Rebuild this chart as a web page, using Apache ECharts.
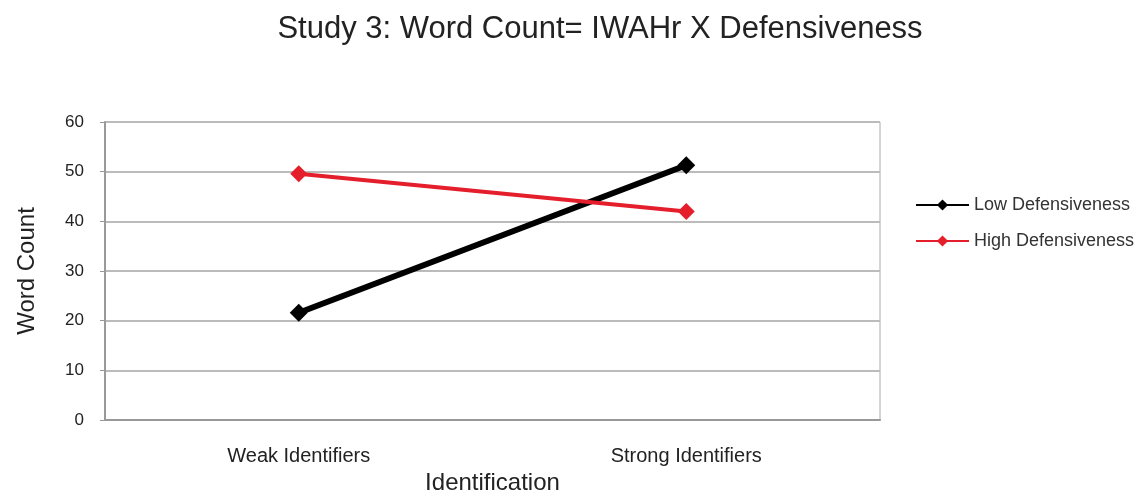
<!DOCTYPE html>
<html>
<head>
<meta charset="utf-8">
<script src="https://cdn.jsdelivr.net/npm/echarts@6/dist/echarts.min.js"></script>
<style>
  html, body { margin: 0; padding: 0; background: #fff; }
  #chart { width: 1147px; height: 497px; }
</style>
</head>
<body>
<div id="chart"></div>
<script>
const categories = ['Weak Identifiers', 'Strong Identifiers']
const lowDefensiveness = [21.6, 51.3]
const highDefensiveness = [49.6, 42.0]
const seriesNames = ['Low Defensiveness', 'High Defensiveness']

const chart = echarts.init(document.getElementById('chart'))
const font = 'Liberation Sans, Arial, sans-serif'
const option = {
  animation: false,
  textStyle: { fontFamily: font },
  title: {
    text: 'Study 3: Word Count= IWAHr X Defensiveness',
    left: 595,
    textAlign: 'center',
    top: 9,
    textStyle: { fontSize: 31, fontWeight: 'normal', color: '#222', fontFamily: font }
  },
  legend: {
    orient: 'vertical',
    left: 910,
    top: 191,
    itemGap: 18,
    itemWidth: 53,
    itemHeight: 14,
    textStyle: { fontSize: 18, color: '#333', fontFamily: font },
    data: seriesNames
  },
  grid: {
    left: 105,
    right: 267,
    top: 122,
    bottom: 77,
    outerBoundsMode: 'none',
    show: true,
    borderColor: '#aaa',
    borderWidth: 1
  },
  xAxis: {
    type: 'category',
    data: categories,
    name: 'Identification',
    nameLocation: 'middle',
    nameGap: 42,
    nameTextStyle: { fontSize: 24, color: '#222' },
    axisLine: { lineStyle: { color: '#999', width: 2 } },
    axisTick: { show: false },
    axisLabel: { fontSize: 20, color: '#222', margin: 26 }
  },
  yAxis: {
    type: 'value',
    min: 0,
    max: 60,
    interval: 10,
    name: 'Word Count',
    nameLocation: 'middle',
    nameGap: 66,
    nameTextStyle: { fontSize: 24, color: '#222' },
    axisLine: { show: true, lineStyle: { color: '#999', width: 2 } },
    axisTick: { show: true, length: 5, lineStyle: { color: '#999' } },
    axisLabel: { fontSize: 17, color: '#222', margin: 21 },
    splitLine: { lineStyle: { color: '#bbb', width: 2 } }
  },
  series: [
    {
      name: seriesNames[0],
      type: 'line',
      data: lowDefensiveness,
      symbol: 'diamond',
      symbolSize: 18,
      color: '#000',
      lineStyle: { width: 6, color: '#000' },
      itemStyle: { color: '#000' }
    },
    {
      name: seriesNames[1],
      type: 'line',
      data: highDefensiveness,
      symbol: 'diamond',
      symbolSize: 17,
      color: '#e41e2b',
      lineStyle: { width: 4, color: '#e41e2b' },
      itemStyle: { color: '#e41e2b' }
    }
  ]
}
chart.setOption(option)
</script>
</body>
</html>
